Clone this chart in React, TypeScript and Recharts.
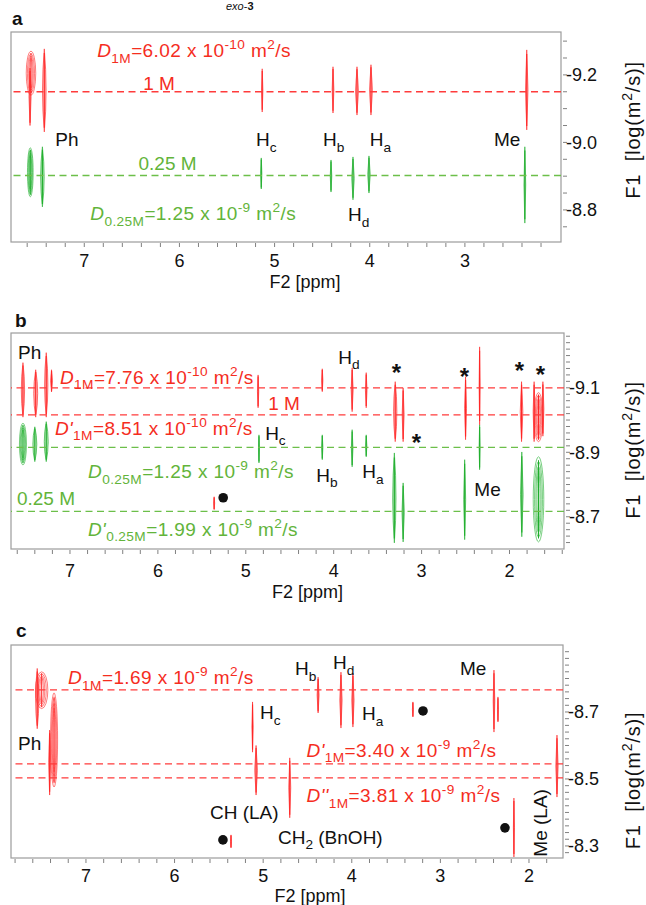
import React from 'react';
import { ComposedChart, XAxis, YAxis, Scatter, ReferenceLine, ReferenceArea } from 'recharts';

const FONT = '"Liberation Sans", Arial, Helvetica, sans-serif';
const RED_TEXT = '#f52d1e';
const RED_LINE = '#ff3b3b';
const RED_PEAK = '#ff2626';
const GREEN_TEXT = '#62b43a';
const GREEN_LINE = '#6cbf4a';
const GREEN_PEAK = '#1fae2c';
const BLACK = '#111111';
const FRAME = '#9c9c9c';

type Peak = { ppm: number; w: number; y1: number; y2: number };
type Note = { x: number; y: number; t: string; s: string };
type Pt = { x: number; y: number };

// ---------------- panel a ----------------
const aXDomain = [1.99, 7.77];
const aYDomain = [-9.327, -8.705];
const aXMajor = [7, 6, 5, 4, 3];
const aXTicks = [2.2, 2.4, 2.6, 2.8, 3, 3.2, 3.4, 3.6, 3.8, 4, 4.2, 4.4, 4.6, 4.8, 5, 5.2, 5.4, 5.6, 5.8, 6, 6.2, 6.4, 6.6, 6.8, 7, 7.2, 7.4, 7.6];
const aYMajor = [-9.2, -9.0, -8.8];
const aYTicks = [-9.3, -9.25, -9.2, -9.15, -9.1, -9.05, -9.0, -8.95, -8.9, -8.85, -8.8, -8.75];
const aRedLines = [-9.15];
const aGreenLines = [-8.902];
const aRedPeaks: Peak[] = [
  { ppm: 7.57, w: 0.03, y1: -9.22, y2: -9.05 },
  { ppm: 7.56, w: 0.1, y1: -9.27, y2: -9.14 },
  { ppm: 7.42, w: 0.05, y1: -9.277, y2: -9.031 },
  { ppm: 5.13, w: 0.02, y1: -9.218, y2: -9.09 },
  { ppm: 4.386, w: 0.025, y1: -9.224, y2: -9.087 },
  { ppm: 4.134, w: 0.04, y1: -9.224, y2: -9.081 },
  { ppm: 3.987, w: 0.04, y1: -9.23, y2: -9.081 },
  { ppm: 2.35, w: 0.035, y1: -9.274, y2: -9.037 },
];
const aGreenPeaks: Peak[] = [
  { ppm: 7.567, w: 0.06, y1: -8.984, y2: -8.839 },
  { ppm: 7.44, w: 0.05, y1: -8.987, y2: -8.809 },
  { ppm: 5.14, w: 0.018, y1: -8.954, y2: -8.862 },
  { ppm: 4.407, w: 0.022, y1: -8.948, y2: -8.853 },
  { ppm: 4.176, w: 0.035, y1: -8.957, y2: -8.83 },
  { ppm: 4.008, w: 0.035, y1: -8.96, y2: -8.85 },
  { ppm: 2.37, w: 0.025, y1: -8.987, y2: -8.761 },
];
const aNotes: Note[] = [
  { x: 6.864, y: -9.272, t: '~D~_{1M}=6.02 x 10^{-10} m^{2}/s', s: 'r' },
  { x: 6.38, y: -9.175, t: '1 M', s: 'r' },
  { x: 7.304, y: -9.01, t: 'Ph', s: 'k' },
  { x: 5.194, y: -9.01, t: 'H_{c}', s: 'k' },
  { x: 4.49, y: -9.01, t: 'H_{b}', s: 'k' },
  { x: 4.0, y: -9.01, t: 'H_{a}', s: 'k' },
  { x: 2.695, y: -9.01, t: 'Me', s: 'k' },
  { x: 6.43, y: -8.939, t: '0.25 M', s: 'g' },
  { x: 6.937, y: -8.79, t: '~D~_{0.25M}=1.25 x 10^{-9} m^{2}/s', s: 'g' },
  { x: 4.228, y: -8.788, t: 'H_{d}', s: 'k' },
];

// ---------------- panel b ----------------
const bXDomain = [1.38, 7.671];
const bYDomain = [-9.27, -8.6];
const bXMajor = [7, 6, 5, 4, 3, 2];
const bXTicks = [1.4, 1.6, 1.8, 2, 2.2, 2.4, 2.6, 2.8, 3, 3.2, 3.4, 3.6, 3.8, 4, 4.2, 4.4, 4.6, 4.8, 5, 5.2, 5.4, 5.6, 5.8, 6, 6.2, 6.4, 6.6, 6.8, 7, 7.2, 7.4, 7.6];
const bYMajor = [-9.1, -8.9, -8.7];
const bYTicks = [-9.26, -9.24, -9.22, -9.2, -9.18, -9.16, -9.14, -9.12, -9.1, -9.08, -9.06, -9.04, -9.02, -9.0, -8.98, -8.96, -8.94, -8.92, -8.9, -8.88, -8.86, -8.84, -8.82, -8.8, -8.78, -8.76, -8.74, -8.72, -8.7, -8.68, -8.66, -8.64, -8.62];
const bRedLines = [-9.1, -9.016];
const bGreenLines = [-8.915, -8.717];
const bRedPeaks: Peak[] = [
  { ppm: 7.535, w: 0.05, y1: -9.178, y2: -9.009 },
  { ppm: 7.39, w: 0.06, y1: -9.156, y2: -9.009 },
  { ppm: 7.27, w: 0.05, y1: -9.209, y2: -9.009 },
  { ppm: 7.21, w: 0.03, y1: -9.156, y2: -9.087 },
  { ppm: 4.86, w: 0.02, y1: -9.14, y2: -9.038 },
  { ppm: 4.13, w: 0.02, y1: -9.159, y2: -9.088 },
  { ppm: 3.79, w: 0.03, y1: -9.162, y2: -9.026 },
  { ppm: 3.63, w: 0.025, y1: -9.147, y2: -9.038 },
  { ppm: 3.3, w: 0.05, y1: -9.119, y2: -8.933 },
  { ppm: 3.21, w: 0.03, y1: -9.1, y2: -8.933 },
  { ppm: 2.5, w: 0.03, y1: -9.134, y2: -8.939 },
  { ppm: 2.34, w: 0.015, y1: -9.227, y2: -8.985 },
  { ppm: 1.863, w: 0.04, y1: -9.119, y2: -8.933 },
  { ppm: 1.67, w: 0.1, y1: -9.085, y2: -8.933 },
  { ppm: 1.72, w: 0.03, y1: -9.119, y2: -8.933 },
  { ppm: 1.62, w: 0.03, y1: -9.119, y2: -8.95 },
  { ppm: 5.36, w: 0.012, y1: -8.762, y2: -8.722 },
];
const bGreenPeaks: Peak[] = [
  { ppm: 7.535, w: 0.08, y1: -8.99, y2: -8.861 },
  { ppm: 7.4, w: 0.06, y1: -8.979, y2: -8.871 },
  { ppm: 7.27, w: 0.06, y1: -8.995, y2: -8.871 },
  { ppm: 4.85, w: 0.015, y1: -8.954, y2: -8.867 },
  { ppm: 4.13, w: 0.02, y1: -8.954, y2: -8.877 },
  { ppm: 3.79, w: 0.025, y1: -8.97, y2: -8.855 },
  { ppm: 3.63, w: 0.02, y1: -8.954, y2: -8.886 },
  { ppm: 3.31, w: 0.05, y1: -8.898, y2: -8.619 },
  { ppm: 3.21, w: 0.035, y1: -8.805, y2: -8.622 },
  { ppm: 2.51, w: 0.03, y1: -8.877, y2: -8.629 },
  { ppm: 2.34, w: 0.012, y1: -8.985, y2: -8.846 },
  { ppm: 1.86, w: 0.04, y1: -8.901, y2: -8.638 },
  { ppm: 1.67, w: 0.12, y1: -8.886, y2: -8.622 },
];
const bNotes: Note[] = [
  { x: 7.59, y: -9.212, t: 'Ph', s: 'k' },
  { x: 7.114, y: -9.134, t: '~D~_{1M}=7.76 x 10^{-10} m^{2}/s', s: 'r' },
  { x: 4.745, y: -9.053, t: '1 M', s: 'r' },
  { x: 7.171, y: -8.976, t: "~D'~_{1M}=8.51 x 10^{-10} m^{2}/s", s: 'r' },
  { x: 4.78, y: -8.96, t: 'H_{c}', s: 'k' },
  { x: 6.795, y: -8.84, t: '~D~_{0.25M}=1.25 x 10^{-9} m^{2}/s', s: 'g' },
  { x: 4.198, y: -8.83, t: 'H_{b}', s: 'k' },
  { x: 3.674, y: -8.84, t: 'H_{a}', s: 'k' },
  { x: 3.948, y: -9.196, t: 'H_{d}', s: 'k' },
  { x: 2.4, y: -8.787, t: 'Me', s: 'k' },
  { x: 7.604, y: -8.759, t: '0.25 M', s: 'g' },
  { x: 6.795, y: -8.663, t: "~D'~_{0.25M}=1.99 x 10^{-9} m^{2}/s", s: 'g' },
];
const bStars: Pt[] = [
  { x: 3.287, y: -9.162 },
  { x: 2.513, y: -9.15 },
  { x: 1.886, y: -9.168 },
  { x: 1.647, y: -9.156 },
  { x: 3.06, y: -8.945 },
];
const bDots: Pt[] = [{ x: 5.257, y: -8.759 }];

// ---------------- panel c ----------------
const cXDomain = [1.616, 7.846];
const cYDomain = [-8.9, -8.264];
const cXMajor = [7, 6, 5, 4, 3, 2];
const cXTicks = [1.8, 2, 2.2, 2.4, 2.6, 2.8, 3, 3.2, 3.4, 3.6, 3.8, 4, 4.2, 4.4, 4.6, 4.8, 5, 5.2, 5.4, 5.6, 5.8, 6, 6.2, 6.4, 6.6, 6.8, 7, 7.2, 7.4, 7.6, 7.8];
const cYMajor = [-8.7, -8.5, -8.3];
const cYTicks = [-8.88, -8.86, -8.84, -8.82, -8.8, -8.78, -8.76, -8.74, -8.72, -8.7, -8.68, -8.66, -8.64, -8.62, -8.6, -8.58, -8.56, -8.54, -8.52, -8.5, -8.48, -8.46, -8.44, -8.42, -8.4, -8.38, -8.36, -8.34, -8.32, -8.3, -8.28];
const cRedLines = [-8.766, -8.545, -8.503];
const cGreenLines: number[] = [];
const cRedPeaks: Peak[] = [
  { ppm: 7.55, w: 0.05, y1: -8.83, y2: -8.65 },
  { ppm: 7.5, w: 0.14, y1: -8.82, y2: -8.71 },
  { ppm: 7.36, w: 0.08, y1: -8.757, y2: -8.476 },
  { ppm: 7.41, w: 0.03, y1: -8.646, y2: -8.452 },
  { ppm: 5.12, w: 0.02, y1: -8.73, y2: -8.58 },
  { ppm: 5.08, w: 0.04, y1: -8.6, y2: -8.452 },
  { ppm: 4.7, w: 0.03, y1: -8.563, y2: -8.384 },
  { ppm: 5.363, w: 0.01, y1: -8.333, y2: -8.294 },
  { ppm: 4.38, w: 0.03, y1: -8.804, y2: -8.697 },
  { ppm: 4.122, w: 0.035, y1: -8.819, y2: -8.652 },
  { ppm: 3.987, w: 0.035, y1: -8.816, y2: -8.655 },
  { ppm: 3.31, w: 0.015, y1: -8.73, y2: -8.685 },
  { ppm: 2.395, w: 0.025, y1: -8.825, y2: -8.64 },
  { ppm: 2.35, w: 0.015, y1: -8.745, y2: -8.67 },
  { ppm: 1.684, w: 0.035, y1: -8.631, y2: -8.446 },
  { ppm: 2.17, w: 0.015, y1: -8.443, y2: -8.267 },
];
const cGreenPeaks: Peak[] = [];
const cNotes: Note[] = [
  { x: 7.203, y: -8.804, t: '~D~_{1M}=1.69 x 10^{-9} m^{2}/s', s: 'r' },
  { x: 4.641, y: -8.831, t: 'H_{b}', s: 'k' },
  { x: 4.212, y: -8.849, t: 'H_{d}', s: 'k' },
  { x: 2.779, y: -8.831, t: 'Me', s: 'k' },
  { x: 5.036, y: -8.7, t: 'H_{c}', s: 'k' },
  { x: 3.885, y: -8.697, t: 'H_{a}', s: 'k' },
  { x: 7.767, y: -8.607, t: 'Ph', s: 'k' },
  { x: 4.51, y: -8.587, t: "~D'~_{1M}=3.40 x 10^{-9} m^{2}/s", s: 'r' },
  { x: 4.51, y: -8.452, t: "~D''~_{1M}=3.81 x 10^{-9} m^{2}/s", s: 'r' },
  { x: 5.6, y: -8.4, t: 'CH (LA)', s: 'k' },
  { x: 4.833, y: -8.327, t: 'CH_{2} (BnOH)', s: 'k' },
];
const cRotNotes: Note[] = [{ x: 1.876, y: -8.369, t: 'Me (LA)', s: 'k' }];
const cDots: Pt[] = [
  { x: 5.454, y: -8.318 },
  { x: 3.196, y: -8.703 },
  { x: 2.271, y: -8.354 },
];

// ---------------- rendering helpers ----------------
type Seg = { t: string; italic: boolean; shift: string };
function parseRich(s: string): Seg[] {
  const segs: Seg[] = [];
  let italic = false;
  let buf = '';
  let i = 0;
  const push = (t: string, shift: string) => {
    if (t) segs.push({ t, italic, shift });
  };
  while (i < s.length) {
    const ch = s[i];
    if (ch === '~') {
      push(buf, '');
      buf = '';
      italic = !italic;
      i++;
      continue;
    }
    if ((ch === '_' || ch === '^') && s[i + 1] === '{') {
      push(buf, '');
      buf = '';
      const end = s.indexOf('}', i);
      push(s.slice(i + 2, end), ch === '_' ? 'sub' : 'sup');
      i = end + 1;
      continue;
    }
    buf += ch;
    i++;
  }
  push(buf, '');
  return segs;
}

function RichText(props: { x: number; y: number; text: string; fs: number; fill: string; anchor?: string; ls?: number; transform?: string }) {
  const { x, y, text, fs, fill, anchor, ls, transform } = props;
  const segs = parseRich(text);
  let prev = 0;
  return (
    <text x={x} y={y} fontSize={fs} fill={fill} textAnchor={anchor || 'start'} fontFamily={FONT} letterSpacing={ls || 0} transform={transform} style={{ whiteSpace: 'pre' }}>
      {segs.map((sg, i) => {
        const shift = sg.shift === 'sub' ? fs * 0.3 : sg.shift === 'sup' ? -fs * 0.42 : 0;
        const dy = shift - prev;
        prev = shift;
        return (
          <tspan key={i} dy={dy} fontSize={sg.shift ? fs * 0.72 : fs} fontStyle={sg.italic ? 'italic' : 'normal'}>
            {sg.t}
          </tspan>
        );
      })}
    </text>
  );
}

const colorOf = (s: string) => (s === 'r' ? RED_TEXT : s === 'g' ? GREEN_TEXT : BLACK);

const NoteShape = (p: any) => {
  const n = p.payload as Note;
  const fs = 19;
  const isD = n.t.indexOf('~D') === 0;
  return <RichText x={p.cx} y={p.cy + fs * 0.36} text={n.t} fs={fs} fill={colorOf(n.s)} ls={isD ? 0.4 : 0} />;
};
const RotNoteShape = (p: any) => {
  const n = p.payload as Note;
  const fs = 19;
  return <RichText x={p.cx} y={p.cy + fs * 0.36} text={n.t} fs={fs} fill={colorOf(n.s)} anchor="middle" transform={`rotate(-90 ${p.cx} ${p.cy})`} />;
};
const StarShape = (p: any) => (
  <text x={p.cx} y={p.cy + 13} fontSize={24} textAnchor="middle" fontFamily={FONT} fontWeight="bold" fill={BLACK}>
    *
  </text>
);
const DotShape = (p: any) => <circle cx={p.cx} cy={p.cy} r={4.8} fill={BLACK} />;

function PeakShape(props: any) {
  const { x, y, width, height, color } = props;
  const cx = x + width / 2;
  const cy = y + height / 2;
  const rx = Math.max(width / 2, 0.7);
  if (width >= 5.5) {
    const rings = [1, 0.75, 0.5, 0.28];
    return (
      <g>
        {rings.map((k, i) => (
          <ellipse key={i} cx={cx} cy={cy} rx={rx * k} ry={(height / 2) * (0.55 + 0.45 * k)} fill="none" stroke={color} strokeWidth={0.7} strokeOpacity={0.85} />
        ))}
        <line x1={cx} x2={cx} y1={y + height * 0.04} y2={y + height * 0.96} stroke={color} strokeWidth={1} />
      </g>
    );
  }
  const d = `M ${cx} ${y} Q ${cx + rx * 1.5} ${cy} ${cx} ${y + height} Q ${cx - rx * 1.5} ${cy} ${cx} ${y} Z`;
  return (
    <g>
      <path d={d} fill={color} fillOpacity={0.35} stroke={color} strokeWidth={0.7} strokeOpacity={0.9} />
      <line x1={cx} x2={cx} y1={y + height * 0.05} y2={y + height * 0.95} stroke={color} strokeWidth={1.1} />
    </g>
  );
}

const near = (arr: number[], v: number) => arr.some((m) => Math.abs(m - v) < 1e-6);

const makeXTick = (majors: number[], labelDy: number) => (p: any) => {
  const v = p.payload.value;
  return (
    <g>
      <line x1={p.x} x2={p.x} y1={p.y + 1} y2={p.y + 5} stroke="#808080" strokeWidth={1} />
      {near(majors, v) && (
        <text x={p.x} y={p.y + labelDy + 6.5} fontSize={18} textAnchor="middle" fontFamily={FONT} fill={BLACK}>
          {String(Math.round(v))}
        </text>
      )}
    </g>
  );
};
const makeYTick = (majors: number[]) => (p: any) => {
  const v = p.payload.value;
  return (
    <g>
      <line x1={p.x + 2} x2={p.x + 6} y1={p.y} y2={p.y} stroke="#808080" strokeWidth={1} />
      {near(majors, v) && (
        <text x={p.x + 5} y={p.y + 6.5} fontSize={18} textAnchor="start" fontFamily={FONT} fill={BLACK}>
          {v.toFixed(1)}
        </text>
      )}
    </g>
  );
};
const makeF2 = (dx: number, dy: number) => (p: any) => {
  const vb = p.viewBox || {};
  return (
    <text x={vb.x + vb.width / 2 + dx} y={vb.y + dy + 6.5} fontSize={18} textAnchor="middle" fontFamily={FONT} fill={BLACK}>
      F2 [ppm]
    </text>
  );
};
const makeF1 = (dx: number, dy: number) => (p: any) => {
  const vb = p.viewBox || {};
  const cx = vb.x + dx;
  const cy = vb.y + vb.height / 2 + dy;
  return (
    <text x={cx} y={cy + 7} fontSize={20} textAnchor="middle" fontFamily={FONT} fill={BLACK} letterSpacing={0.8} transform={`rotate(-90 ${cx} ${cy})`} style={{ whiteSpace: 'pre' }}>
      <tspan>F1  [log(m</tspan>
      <tspan dy={-8} fontSize={14}>2</tspan>
      <tspan dy={8}>/s)]</tspan>
    </text>
  );
};

type Cfg = {
  top: number;
  height: number;
  margin: { top: number; right: number; bottom: number; left: number };
  xDomain: number[];
  yDomain: number[];
  xTicks: number[];
  xMajor: number[];
  yTicks: number[];
  yMajor: number[];
  redLines: number[];
  greenLines: number[];
  redPeaks: Peak[];
  greenPeaks: Peak[];
  notes: Note[];
  rotNotes: Note[];
  stars: Pt[];
  dots: Pt[];
  xLabelDy: number;
  f2dx: number;
  f2dy: number;
  f1dx: number;
  f1dy: number;
};

function Panel({ cfg }: { cfg: Cfg }) {
  const [x0, x1] = cfg.xDomain;
  const [y0, y1] = cfg.yDomain;
  const peakArea = (p: Peak, color: string, key: string) => (
    <ReferenceArea
      key={key}
      x1={p.ppm + p.w / 2}
      x2={p.ppm - p.w / 2}
      y1={p.y1}
      y2={p.y2}
      ifOverflow="visible"
      shape={(sp: any) => <PeakShape {...sp} color={color} />}
    />
  );
  return (
    <div style={{ position: 'absolute', left: 0, top: cfg.top }}>
      <ComposedChart width={646} height={cfg.height} margin={cfg.margin}>
        <XAxis
          type="number"
          dataKey="x"
          domain={cfg.xDomain}
          reversed
          allowDataOverflow
          ticks={cfg.xTicks}
          interval={0}
          tick={makeXTick(cfg.xMajor, cfg.xLabelDy)}
          tickLine={false}
          axisLine={false}
          tickSize={0}
          tickMargin={0}
          height={50}
          label={makeF2(cfg.f2dx, cfg.f2dy)}
        />
        <YAxis
          type="number"
          dataKey="y"
          orientation="right"
          domain={cfg.yDomain}
          reversed
          allowDataOverflow
          ticks={cfg.yTicks}
          interval={0}
          tick={makeYTick(cfg.yMajor)}
          tickLine={false}
          axisLine={false}
          tickSize={0}
          tickMargin={0}
          width={60}
          label={makeF1(cfg.f1dx, cfg.f1dy)}
        />
        <ReferenceArea
          x1={x0}
          x2={x1}
          y1={y0}
          y2={y1}
          ifOverflow="visible"
          shape={(sp: any) => <rect x={sp.x} y={sp.y} width={sp.width} height={sp.height} fill="none" stroke={FRAME} strokeWidth={1.2} />}
        />
        {cfg.redLines.map((v, i) => (
          <ReferenceLine key={'rl' + i} y={v} stroke={RED_LINE} strokeDasharray="7 4.5" strokeWidth={1.3} ifOverflow="visible" />
        ))}
        {cfg.greenLines.map((v, i) => (
          <ReferenceLine key={'gl' + i} y={v} stroke={GREEN_LINE} strokeDasharray="7 4.5" strokeWidth={1.3} ifOverflow="visible" />
        ))}
        {cfg.redPeaks.map((p, i) => peakArea(p, RED_PEAK, 'rp' + i))}
        {cfg.greenPeaks.map((p, i) => peakArea(p, GREEN_PEAK, 'gp' + i))}
        <Scatter data={cfg.dots} shape={DotShape} isAnimationActive={false} />
        <Scatter data={cfg.stars} shape={StarShape} isAnimationActive={false} />
        <Scatter data={cfg.notes} shape={NoteShape} isAnimationActive={false} />
        <Scatter data={cfg.rotNotes} shape={RotNoteShape} isAnimationActive={false} />
      </ComposedChart>
    </div>
  );
}

const panelA: Cfg = {
  top: 0,
  height: 300,
  margin: { top: 32, right: 25, bottom: 8, left: 11 },
  xDomain: aXDomain,
  yDomain: aYDomain,
  xTicks: aXTicks,
  xMajor: aXMajor,
  yTicks: aYTicks,
  yMajor: aYMajor,
  redLines: aRedLines,
  greenLines: aGreenLines,
  redPeaks: aRedPeaks,
  greenPeaks: aGreenPeaks,
  notes: aNotes,
  rotNotes: [],
  stars: [],
  dots: [],
  xLabelDy: 18,
  f2dx: 19,
  f2dy: 39,
  f1dx: 72,
  f1dy: -7,
};
const panelB: Cfg = {
  top: 300,
  height: 312,
  margin: { top: 33, right: 22, bottom: 13, left: 11 },
  xDomain: bXDomain,
  yDomain: bYDomain,
  xTicks: bXTicks,
  xMajor: bXMajor,
  yTicks: bYTicks,
  yMajor: bYMajor,
  redLines: bRedLines,
  greenLines: bGreenLines,
  redPeaks: bRedPeaks,
  greenPeaks: bGreenPeaks,
  notes: bNotes,
  rotNotes: [],
  stars: bStars,
  dots: bDots,
  xLabelDy: 21,
  f2dx: 20,
  f2dy: 42,
  f1dx: 69,
  f1dy: 9,
};
const panelC: Cfg = {
  top: 600,
  height: 305,
  margin: { top: 45, right: 23, bottom: -3, left: 11 },
  xDomain: cXDomain,
  yDomain: cYDomain,
  xTicks: cXTicks,
  xMajor: cXMajor,
  yTicks: cYTicks,
  yMajor: cYMajor,
  redLines: cRedLines,
  greenLines: cGreenLines,
  redPeaks: cRedPeaks,
  greenPeaks: cGreenPeaks,
  notes: cNotes,
  rotNotes: cRotNotes,
  stars: [],
  dots: cDots,
  xLabelDy: 17,
  f2dx: 23,
  f2dy: 37,
  f1dx: 70,
  f1dy: 29,
};

export default function App() {
  return (
    <div style={{ position: 'absolute', left: 0, top: 0, width: 646, height: 905, background: '#ffffff', overflow: 'hidden', fontFamily: FONT }}>
      <svg width={646} height={905} style={{ position: 'absolute', left: 0, top: 0 }}>
        <text x={226} y={10} fontSize={11} fontFamily={FONT} fill={BLACK}>
          <tspan fontStyle="italic">exo</tspan>
          <tspan>-</tspan>
          <tspan fontWeight="bold">3</tspan>
        </text>
        <text x={12} y={25} fontSize={19} fontWeight="bold" fontFamily={FONT} fill={BLACK}>a</text>
        <text x={15} y={327} fontSize={19} fontWeight="bold" fontFamily={FONT} fill={BLACK}>b</text>
        <text x={16} y={637} fontSize={19} fontWeight="bold" fontFamily={FONT} fill={BLACK}>c</text>
      </svg>
      <Panel cfg={panelA} />
      <Panel cfg={panelB} />
      <Panel cfg={panelC} />
    </div>
  );
}
